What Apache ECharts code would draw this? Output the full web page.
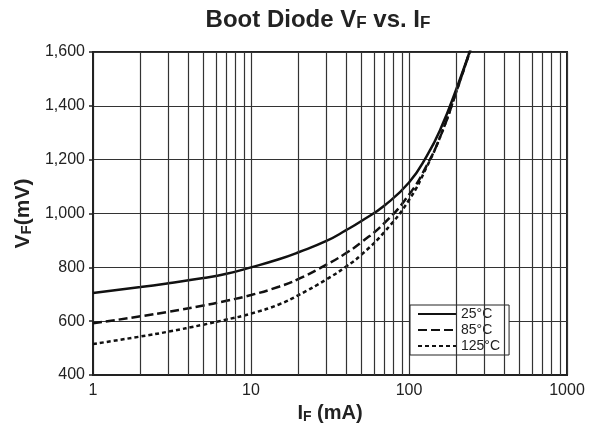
<!DOCTYPE html>
<html><head><meta charset="utf-8">
<script src="https://cdn.jsdelivr.net/npm/echarts@6/dist/echarts.min.js"></script>
<style>html,body{margin:0;padding:0;background:#fff}#c{width:607px;height:436px}</style>
</head><body><div id="c"></div>
<script>
var currents = [1, 2, 3, 5, 7, 10, 15, 20, 30, 40, 50, 70, 100, 130, 160, 200, 250];
var v25  = [705, 727, 741, 760, 776, 800, 830, 856, 898, 938, 972, 1030, 1115, 1215, 1320, 1465, 1625];
var v85  = [592, 618, 635, 658, 676, 697, 728, 757, 810, 853, 893, 965, 1070, 1180, 1295, 1455, 1625];
var v125 = [515, 543, 561, 587, 606, 628, 662, 697, 755, 803, 847, 932, 1050, 1175, 1295, 1455, 1625];
var seriesNames = ['25\u00b0C', '85\u00b0C', '125\u00b0C'];
var xTicks = [1, 10, 100, 1000];
var minorX = [2,3,4,5,6,7,8,9,20,30,40,50,60,70,80,90,200,300,400,500,600,700,800,900];

function pairs(v){ return currents.map(function(c,i){ return [c, v[i]]; }); }
var font = 'Liberation Sans, Arial, sans-serif';
var ink = '#222';
var chart = echarts.init(document.getElementById('c'));
chart.setOption({
  animation: false,
  backgroundColor: '#fff',
  title: {
    text: 'Boot Diode V{s|F} vs. I{s|F}',
    left: 313, top: 3, textAlign: 'center',
    textStyle: { fontFamily: font, fontSize: 24, fontWeight: 'bold', color: ink,
      rich: { s: { fontFamily: font, fontSize: 17, fontWeight: 'bold', color: ink, padding: [7,0,0,0] } } }
  },
  grid: { left: 93, right: 40, top: 52, bottom: 61, show: true, borderColor: ink, borderWidth: 2, backgroundColor: 'transparent' },
  legend: {
    data: seriesNames, orient: 'vertical', left: 410, top: 305,
    backgroundColor: '#fff', borderColor: ink, borderWidth: 1, borderRadius: 0,
    padding: [2, 9, 2, 7], itemGap: 2, itemWidth: 38, itemHeight: 14,
    itemStyle: { opacity: 0 },
    textStyle: { fontFamily: font, fontSize: 14, color: ink }
  },
  xAxis: {
    type: 'log', logBase: 10, min: 1, max: 1000,
    axisLine: { show: true, lineStyle: { color: ink, width: 2 } },
    axisTick: { show: false },
    splitLine: { show: true, lineStyle: { color: '#333', width: 1.2 } },
    axisLabel: { fontFamily: font, fontSize: 16, color: ink, margin: 8,
      formatter: function(v){ return xTicks.indexOf(Math.round(v)) >= 0 ? String(Math.round(v)) : ''; } },
    name: 'I{s|F} (mA)', nameLocation: 'middle', nameGap: 26,
    nameTextStyle: { fontFamily: font, fontSize: 20, fontWeight: 'bold', color: ink,
      rich: { s: { fontFamily: font, fontSize: 14, fontWeight: 'bold', color: ink, padding: [6,0,0,0] } } }
  },
  yAxis: {
    type: 'value', min: 400, max: 1600, interval: 200,
    axisLine: { show: true, lineStyle: { color: ink, width: 2 } },
    axisTick: { show: true, inside: false, length: 4, lineStyle: { color: ink, width: 1.5 } },
    splitLine: { show: true, lineStyle: { color: '#333', width: 1.2 } },
    axisLabel: { fontFamily: font, fontSize: 16, color: ink, margin: 8,
      formatter: function(v){ return v.toLocaleString('en-US'); } },
    name: 'V{s|F}(mV)', nameLocation: 'middle', nameGap: 56, nameRotate: 90,
    nameTextStyle: { fontFamily: font, fontSize: 21, fontWeight: 'bold', color: ink,
      rich: { s: { fontFamily: font, fontSize: 15, fontWeight: 'bold', color: ink, padding: [6,0,0,0] } } }
  },
  series: [
    { name: 'grid', type: 'line', data: [], silent: true,
      markLine: { silent: true, symbol: 'none', label: { show: false },
        lineStyle: { color: '#333', width: 1.2, type: 'solid' },
        data: minorX.map(function(x){ return { xAxis: x }; }) } },
    { name: seriesNames[0], type: 'line', data: pairs(v25), smooth: 0.5, symbol: 'none', clip: true,
      lineStyle: { color: '#111', width: 2.5, type: 'solid' }, itemStyle: { color: '#111' } },
    { name: seriesNames[1], type: 'line', data: pairs(v85), smooth: 0.5, symbol: 'none', clip: true,
      lineStyle: { color: '#111', width: 2.5, type: [9, 4] }, itemStyle: { color: '#111' } },
    { name: seriesNames[2], type: 'line', data: pairs(v125), smooth: 0.5, symbol: 'none', clip: true,
      lineStyle: { color: '#111', width: 2.5, type: [4, 3] }, itemStyle: { color: '#111' } }
  ]
});
</script></body></html>
